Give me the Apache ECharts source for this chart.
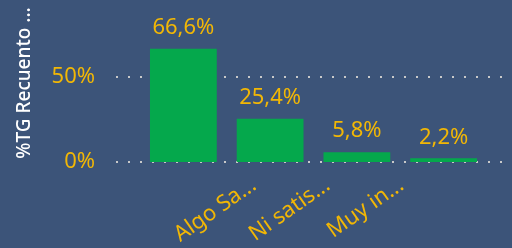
<!DOCTYPE html>
<html>
<head>
<meta charset="utf-8">
<script src="https://cdn.jsdelivr.net/npm/echarts@6/dist/echarts.min.js"></script>
<style>
  html, body { margin: 0; padding: 0; background: #3c5479; }
  #chart { width: 512px; height: 248px; }
</style>
</head>
<body>
<div id="chart"></div>
<script>
// categorias (recortadas como en el visual) y valores en %
var categories = ['Algo Sa...', 'Ni satis...', 'Muy in...', ''];
var values = [66.6, 25.4, 5.8, 2.2];
var yTicks = [0, 50];
var yTitle = '%TG Recuento ...';

var font = 'Noto Sans';
var yellow = '#f2b705';

var chart = echarts.init(document.getElementById('chart'));

var yBase = { min: 0, max: 95.3, interval: 50 };

chart.setOption({
  backgroundColor: '#3c5479',
  animation: false,
  // 0: rejilla de puntos y etiquetas del eje y, 1: barras, 2: etiquetas del eje x
  grid: [
    { left: 116, right: 0, top: 0, bottom: 86 },
    { left: 140, width: 347, top: 0, bottom: 86 },
    { left: 217, width: 347, top: 0, bottom: 86 }
  ],
  xAxis: [
    { gridIndex: 0, type: 'value', show: false, min: 0, max: 1 },
    { gridIndex: 1, type: 'category', data: categories, show: false },
    {
      gridIndex: 2, type: 'category', data: categories,
      axisLine: { show: false }, axisTick: { show: false },
      axisLabel: {
        rotate: 35, margin: 21, interval: 0,
        color: yellow, fontFamily: font, fontSize: 22
      }
    }
  ],
  yAxis: [
    {
      gridIndex: 0, type: 'value', min: yBase.min, max: yBase.max, interval: yBase.interval,
      axisLine: { show: false }, axisTick: { show: false },
      axisLabel: {
        margin: 21, color: yellow, fontFamily: font, fontSize: 22,
        formatter: function (v) { return yTicks.indexOf(v) >= 0 ? v + '%' : ''; }
      },
      splitLine: {
        showMaxLine: false,
        lineStyle: { color: '#c9c9c9', width: 2, type: [2, 10] }
      }
    },
    { gridIndex: 1, type: 'value', min: yBase.min, max: yBase.max, show: false },
    { gridIndex: 2, type: 'value', min: 0, max: 1, show: false }
  ],
  graphic: [{
    type: 'text',
    x: 25, y: 83,
    rotation: Math.PI / 2,
    style: {
      text: yTitle,
      fill: '#ffffff',
      font: '500 19px "Noto Sans"',
      align: 'center',
      verticalAlign: 'middle'
    }
  }],
  series: [{
    type: 'bar',
    xAxisIndex: 1, yAxisIndex: 1,
    data: values,
    barCategoryGap: '23%',
    itemStyle: { color: '#05a84c' },
    label: {
      show: true, position: 'top', distance: 10,
      color: yellow, fontFamily: font, fontSize: 22,
      formatter: function (p) { return p.value.toFixed(1).replace('.', ',') + '%'; }
    }
  }]
});
</script>
</body>
</html>
